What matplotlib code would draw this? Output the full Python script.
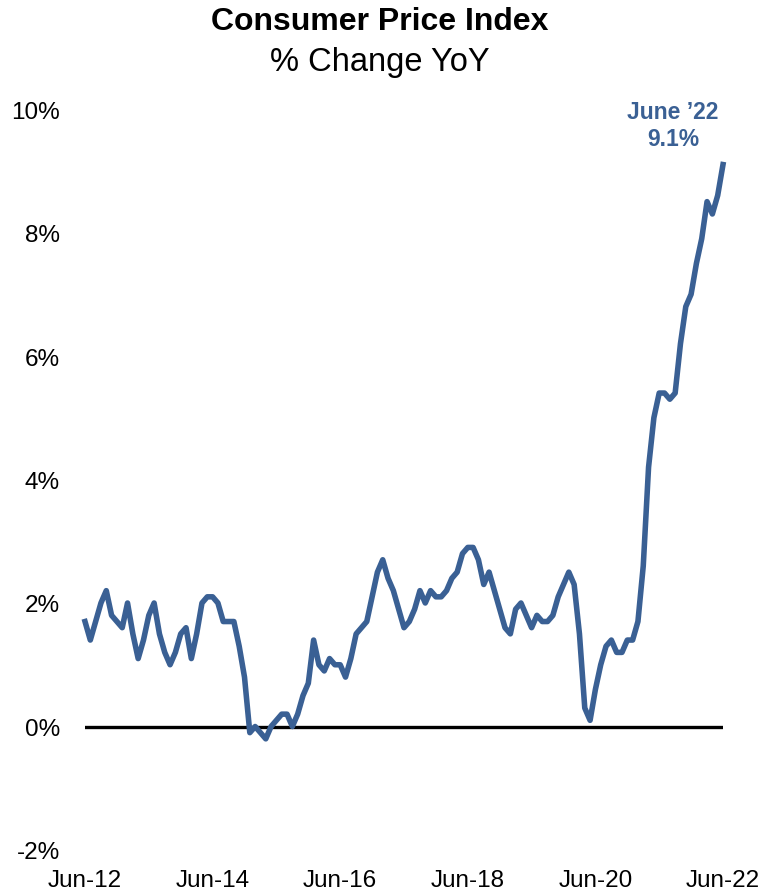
import matplotlib.pyplot as plt
import numpy as np

plt.rcParams['font.family'] = ['Liberation Sans', 'DejaVu Sans']

# monthly CPI, % change year over year, Jun-2012 .. Jun-2022
cpi_yoy = [
    1.7, 1.4, 1.7, 2.0, 2.2, 1.8, 1.7,                          # 2012 Jun-Dec
    1.6, 2.0, 1.5, 1.1, 1.4, 1.8, 2.0, 1.5, 1.2, 1.0, 1.2, 1.5,  # 2013
    1.6, 1.1, 1.5, 2.0, 2.1, 2.1, 2.0, 1.7, 1.7, 1.7, 1.3, 0.8,  # 2014
    -0.1, 0.0, -0.1, -0.2, 0.0, 0.1, 0.2, 0.2, 0.0, 0.2, 0.5, 0.7,  # 2015
    1.4, 1.0, 0.9, 1.1, 1.0, 1.0, 0.8, 1.1, 1.5, 1.6, 1.7, 2.1,  # 2016
    2.5, 2.7, 2.4, 2.2, 1.9, 1.6, 1.7, 1.9, 2.2, 2.0, 2.2, 2.1,  # 2017
    2.1, 2.2, 2.4, 2.5, 2.8, 2.9, 2.9, 2.7, 2.3, 2.5, 2.2, 1.9,  # 2018
    1.6, 1.5, 1.9, 2.0, 1.8, 1.6, 1.8, 1.7, 1.7, 1.8, 2.1, 2.3,  # 2019
    2.5, 2.3, 1.5, 0.3, 0.1, 0.6, 1.0, 1.3, 1.4, 1.2, 1.2, 1.4,  # 2020
    1.4, 1.7, 2.6, 4.2, 5.0, 5.4, 5.4, 5.3, 5.4, 6.2, 6.8, 7.0,  # 2021
    7.5, 7.9, 8.5, 8.3, 8.6, 9.1,                                # 2022 Jan-Jun
]
tick_labels = ["Jun-12", "Jun-14", "Jun-16", "Jun-18", "Jun-20", "Jun-22"]
y_ticks = [-2, 0, 2, 4, 6, 8, 10]
last_label = "June \u201922"

blue = "#3a6094"
months = np.arange(len(cpi_yoy))

fig = plt.figure(figsize=(7.6, 8.95), dpi=100)
ax = fig.add_axes([85 / 760, 44 / 895, (723 - 85) / 760, (851 - 110) / 895])

ax.axhline(0, color="black", lw=2.4, zorder=1)
ax.plot(months, cpi_yoy, color=blue, lw=4, solid_joinstyle="round",
        clip_on=False, zorder=2)

ax.set_xlim(0, len(cpi_yoy) - 1)
ax.set_ylim(-2, 10)
ax.set_xticks(months[::24])
ax.set_xticklabels(tick_labels, fontsize=17.5)
ax.set_yticks(y_ticks)
ax.set_yticklabels([f"{v}%" for v in y_ticks], fontsize=17.5)
ax.tick_params(axis="y", length=0, pad=18)
ax.tick_params(axis="x", length=0, pad=14)
for s in ax.spines.values():
    s.set_visible(False)

ax.annotate(f"{last_label}\n{cpi_yoy[-1]}%", xy=(months[-1], cpi_yoy[-1]),
            xytext=(673 / 760, 1 - 126 / 895), textcoords="figure fraction",
            ha="center", va="center", color=blue, fontsize=16.5,
            fontweight="bold", linespacing=1.2)

fig.text(0.5, 1 - 22 / 895, "Consumer Price Index", ha="center", va="center",
         fontsize=23, fontweight="bold")
fig.text(0.5, 1 - 62 / 895, "% Change YoY", ha="center", va="center", fontsize=23.5)

fig.savefig("out.png", dpi=100)
